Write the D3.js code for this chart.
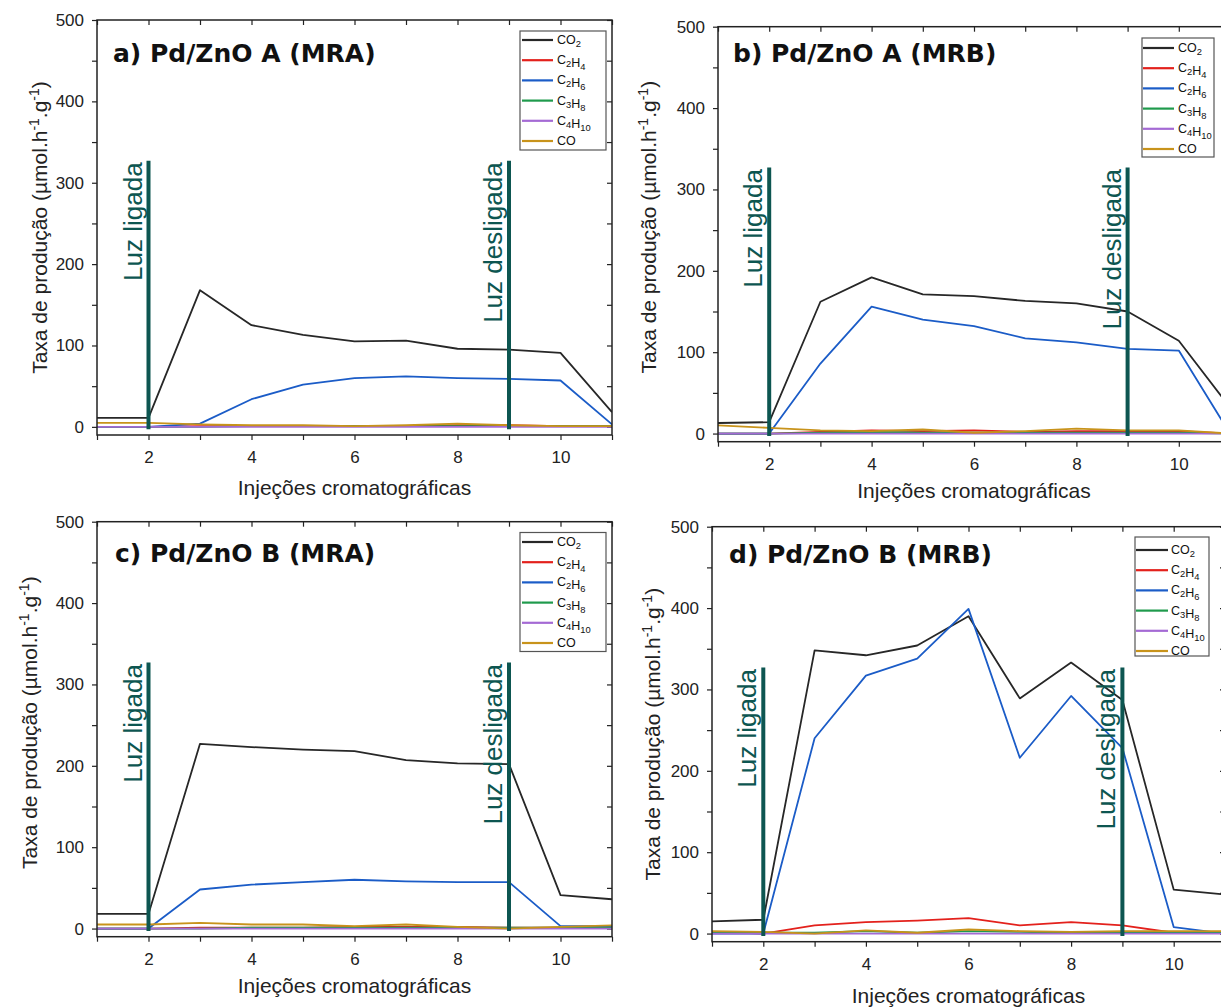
<!DOCTYPE html>
<html><head><meta charset="utf-8">
<script src="https://cdn.jsdelivr.net/npm/d3@7"></script>
<style>html,body{margin:0;padding:0;background:#fff;overflow:hidden}</style>
</head><body><svg id="chart" width="1221" height="1007" xmlns="http://www.w3.org/2000/svg"></svg>
<script>
// ---------- data ----------
const injections = [1, 2, 3, 4, 5, 6, 7, 8, 9, 10, 11];
const seriesNames = ["CO2", "C2H4", "C2H6", "C3H8", "C4H10", "CO"];
const seriesColors = ["#272727", "#e3211c", "#1b5cc7", "#1f9a4c", "#a46ad4", "#c8931b"];
const xTickLabels = [2, 4, 6, 8, 10];
const yTickLabels = [0, 100, 200, 300, 400, 500];
const panelTitles = ["a) Pd/ZnO A (MRA)", "b) Pd/ZnO A (MRB)", "c) Pd/ZnO B (MRA)", "d) Pd/ZnO B (MRB)"];
const lightOn = 2, lightOff = 9;

// a) Pd/ZnO A (MRA)
const aCO2  = [11, 11, 168, 125, 113, 105, 106, 96, 95, 91, 18];
const aC2H4 = [0, 0, 1, 1, 1, 1, 1, 2, 2, 1, 1];
const aC2H6 = [0, 0, 4, 34, 52, 60, 62, 60, 59, 57, 3];
const aC3H8 = [0, 0, 0, 1, 1, 1, 1, 1, 1, 1, 1];
const aC4H10 = [0, 0, 0, 0, 0, 0, 0, 0, 0, 0, 0];
const aCO   = [5, 5, 3, 2, 2, 1, 2, 4, 2, 1, 1];

// b) Pd/ZnO A (MRB)
const bCO2  = [13, 14, 162, 192, 171, 169, 163, 160, 150, 114, 32];
const bC2H4 = [0, 0, 2, 4, 3, 4, 2, 3, 3, 3, 0];
const bC2H6 = [0, 0, 86, 156, 140, 132, 117, 112, 104, 102, 0];
const bC3H8 = [0, 0, 1, 2, 1, 1, 1, 1, 1, 1, 0];
const bC4H10 = [0, 0, 0, 0, 0, 0, 0, 0, 0, 0, 0];
const bCO   = [10, 7, 4, 3, 5, 1, 3, 6, 4, 4, 0];

// c) Pd/ZnO B (MRA)
const cCO2  = [18, 18, 227, 223, 220, 218, 207, 203, 202, 41, 36];
const cC2H4 = [0, 0, 1, 1, 1, 2, 2, 2, 1, 1, 1];
const cC2H6 = [0, 0, 48, 54, 57, 60, 58, 57, 57, 3, 3];
const cC3H8 = [0, 0, 0, 1, 1, 1, 1, 1, 1, 1, 1];
const cC4H10 = [0, 0, 0, 0, 0, 0, 0, 0, 0, 0, 0];
const cCO   = [5, 5, 7, 5, 5, 3, 5, 2, 0, 2, 4];

// d) Pd/ZnO B (MRB)
const dCO2  = [15, 17, 348, 342, 354, 390, 289, 333, 287, 54, 48];
const dC2H4 = [2, 0, 10, 14, 16, 19, 10, 14, 10, 1, 1];
const dC2H6 = [0, 0, 240, 317, 338, 399, 216, 292, 228, 8, 0];
const dC3H8 = [1, 1, 1, 3, 1, 3, 2, 1, 2, 1, 1];
const dC4H10 = [0, 0, 0, 0, 0, 0, 0, 0, 0, 0, 0];
const dCO   = [3, 2, 0, 4, 1, 5, 3, 2, 3, 3, 3];

// ---------- layout ----------
const panels = [
  {title: panelTitles[0], data: [aCO2, aC2H4, aC2H6, aC3H8, aC4H10, aCO],
   left: 97, top: 20, right: 612, bottom: 435,
   titleX: 113, titleY: 62, yLabOff: 57, yLabDy: 0, xLabY: 495,
   leg: {x: 520, y: 31, w: 86, row0: 40, sx1: 522, sx2: 553, tx: 557}},
  {title: panelTitles[1], data: [bCO2, bC2H4, bC2H6, bC3H8, bC4H10, bCO],
   left: 718, top: 26.7, right: 1230, bottom: 441.7,
   titleX: 733, titleY: 62, yLabOff: 69, yLabDy: -7, xLabY: 498,
   leg: {x: 1142, y: 38, w: 72, row0: 48, sx1: 1143, sx2: 1174, tx: 1178}},
  {title: panelTitles[2], data: [cCO2, cC2H4, cC2H6, cC3H8, cC4H10, cCO],
   left: 97, top: 521.7, right: 612, bottom: 936.7,
   titleX: 115, titleY: 562, yLabOff: 67, yLabDy: -6.5, xLabY: 993,
   leg: {x: 520, y: 532.5, w: 86, row0: 542, sx1: 522, sx2: 553, tx: 557}},
  {title: panelTitles[3], data: [dCO2, dC2H4, dC2H6, dC3H8, dC4H10, dCO],
   left: 712, top: 526.7, right: 1225, bottom: 941.7,
   titleX: 729, titleY: 563, yLabOff: 59, yLabDy: 0, xLabY: 1003,
   leg: {x: 1135, y: 537, w: 74, row0: 550, sx1: 1136, sx2: 1168, tx: 1171}}
];

const FONT = "'Liberation Sans', Arial, Helvetica, sans-serif";
const TEAL = "#0d5651";
const svg = d3.select("#chart");

function addSubText(sel, label, size) {
  // digits rendered as subscripts
  const parts = label.match(/[A-Za-z]+|\d+/g);
  parts.forEach(p => {
    if (/^\d+$/.test(p)) {
      sel.append("tspan").attr("dy", 3).attr("font-size", size * 0.75).text(p);
      sel.append("tspan").attr("dy", -3).text("");
    } else {
      sel.append("tspan").text(p);
    }
  });
}

panels.forEach((p, pi) => {
  const x = d3.scaleLinear().domain([1, 11]).range([p.left, p.right]);
  const y = d3.scaleLinear().domain([-10, 500]).range([p.bottom, p.top]);
  const g = svg.append("g");

  const clipId = "clip" + pi;
  svg.append("clipPath").attr("id", clipId).append("rect")
    .attr("x", p.left).attr("y", p.top).attr("width", p.right - p.left).attr("height", p.bottom - p.top);

  // axes
  const styleAxis = a => {
    a.select(".domain").remove();
    a.selectAll("line").attr("stroke", "#222").attr("stroke-width", 1.2);
    a.selectAll("text").attr("font-family", FONT).attr("font-size", 17).attr("fill", "#222");
  };
  g.append("g").attr("transform", `translate(0,${p.bottom})`)
    .call(d3.axisBottom(x).tickValues(injections).tickSize(5).tickPadding(11)
      .tickFormat(d => xTickLabels.includes(d) ? d : ""))
    .call(styleAxis);
  g.append("g").attr("transform", `translate(0,${p.top})`)
    .call(d3.axisTop(x).tickValues(injections).tickSize(-5).tickFormat(""))
    .call(styleAxis);
  g.append("g").attr("transform", `translate(${p.left},0)`)
    .call(d3.axisLeft(y).tickValues(d3.range(0, 501, 50)).tickSize(5).tickPadding(8)
      .tickFormat(d => yTickLabels.includes(d) ? d : ""))
    .call(styleAxis);
  g.append("g").attr("transform", `translate(${p.right},0)`)
    .call(d3.axisRight(y).tickValues(d3.range(0, 501, 50)).tickSize(-5).tickFormat(""))
    .call(styleAxis);

  // series
  const line = d3.line().x((d, i) => x(injections[i])).y(d => y(d));
  const sg = g.append("g").attr("clip-path", `url(#${clipId})`);
  p.data.forEach((vals, si) => {
    sg.append("path").datum(vals).attr("d", line)
      .attr("fill", "none").attr("stroke", seriesColors[si]).attr("stroke-width", 1.8)
      .attr("stroke-linejoin", "round");
  });

  // light on / off markers
  [[lightOn, "Luz ligada"], [lightOff, "Luz desligada"]].forEach(([xv, txt]) => {
    sg.append("line").attr("x1", x(xv)).attr("x2", x(xv)).attr("y1", y(-3)).attr("y2", y(327))
      .attr("stroke", TEAL).attr("stroke-width", 4);
    g.append("text").attr("transform", `translate(${x(xv) - 7},${y(325)}) rotate(-90)`)
      .attr("text-anchor", "end").attr("font-family", FONT).attr("font-size", 26)
      .attr("fill", TEAL).text(txt);
  });

  // frame
  g.append("rect").attr("x", p.left).attr("y", p.top)
    .attr("width", p.right - p.left).attr("height", p.bottom - p.top)
    .attr("fill", "none").attr("stroke", "#222").attr("stroke-width", 1.5);

  // title
  g.append("text").attr("x", p.titleX).attr("y", p.titleY)
    .attr("font-family", "'DejaVu Sans', Verdana, sans-serif").attr("font-weight", "bold")
    .attr("font-size", 25).attr("fill", "#111").text(p.title);

  // y label
  const cy = (p.top + p.bottom) / 2 + p.yLabDy;
  const yl = g.append("text").attr("transform", `translate(${p.left - p.yLabOff},${cy}) rotate(-90)`)
    .attr("text-anchor", "middle").attr("dy", "0.35em")
    .attr("font-family", FONT).attr("font-size", 21).attr("fill", "#222");
  yl.append("tspan").text("Taxa de produção (µmol.h");
  yl.append("tspan").attr("dy", -8).attr("font-size", 14).text("-1");
  yl.append("tspan").attr("dy", 8).text(".g");
  yl.append("tspan").attr("dy", -8).attr("font-size", 14).text("-1");
  yl.append("tspan").attr("dy", 8).text(")");

  // x label
  g.append("text").attr("x", (p.left + p.right) / 2).attr("y", p.xLabY)
    .attr("text-anchor", "middle").attr("font-family", FONT).attr("font-size", 21)
    .attr("fill", "#222").text("Injeções cromatográficas");

  // legend
  const L = p.leg;
  const lg = g.append("g");
  lg.append("rect").attr("x", L.x).attr("y", L.y).attr("width", L.w).attr("height", 119)
    .attr("fill", "#fff").attr("stroke", "#555").attr("stroke-width", 1.2);
  seriesNames.forEach((nm, si) => {
    const ry = L.row0 + si * 20.2;
    lg.append("line").attr("x1", L.sx1).attr("x2", L.sx2).attr("y1", ry).attr("y2", ry)
      .attr("stroke", seriesColors[si]).attr("stroke-width", 2.2);
    const t = lg.append("text").attr("x", L.tx).attr("y", ry + 4)
      .attr("font-family", FONT).attr("font-size", 12.5).attr("fill", "#111");
    addSubText(t, nm, 12.5);
  });
});
</script>
</body></html>
